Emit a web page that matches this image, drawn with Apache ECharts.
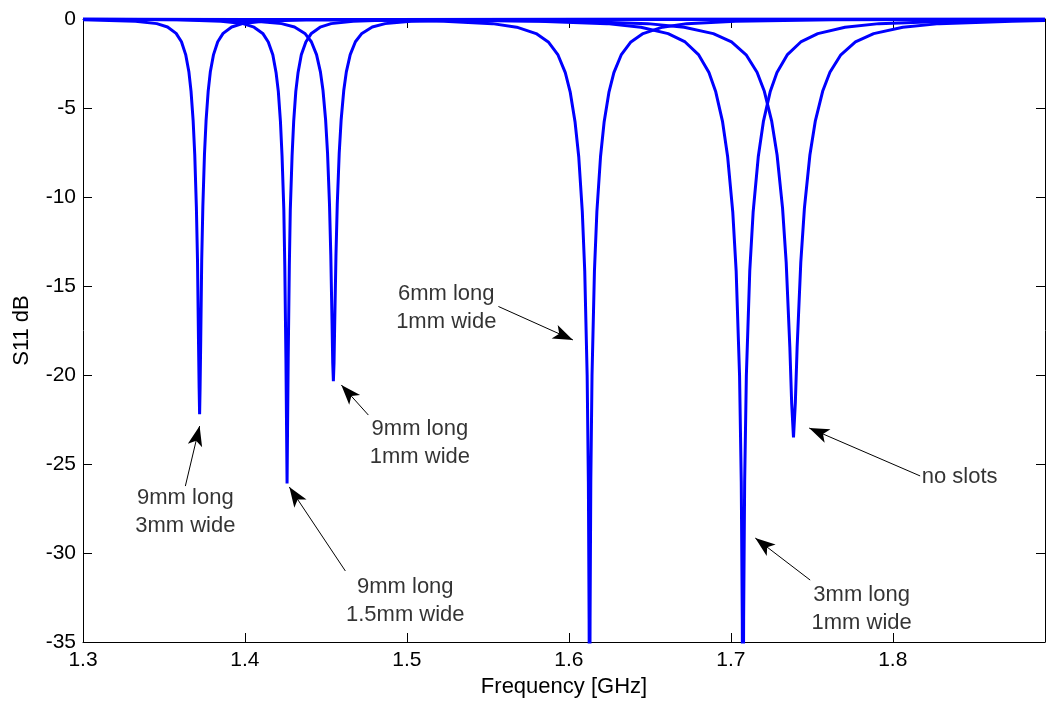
<!DOCTYPE html>
<html>
<head>
<meta charset="utf-8">
<script src="https://cdn.jsdelivr.net/npm/echarts@6/dist/echarts.min.js"></script>
<style>
html,body{margin:0;padding:0;background:#fff;}
#chart{width:1047px;height:704px;}
</style>
</head>
<body>
<div id="chart"></div>
<script>
// ---- data (frequency GHz, S11 dB) ----
const curve9x3 = [[1.300,-0.04],[1.3324,-0.12],[1.3456,-0.26],[1.3522,-0.45],[1.3575,-0.81],[1.3608,-1.28],[1.3634,-2.00],[1.3654,-2.98],[1.3667,-4.05],[1.3680,-5.70],[1.3690,-7.61],[1.3700,-10.55],[1.3707,-13.54],[1.3713,-17.99],[1.3717,-20.70],[1.3720,-22.2],[1.3723,-20.70],[1.3727,-17.99],[1.3733,-13.54],[1.3740,-10.55],[1.3750,-7.61],[1.3760,-5.70],[1.3773,-4.05],[1.3786,-2.98],[1.3806,-2.00],[1.3832,-1.28],[1.3865,-0.81],[1.3918,-0.45],[1.3984,-0.26],[1.4116,-0.12],[1.4380,-0.04],[1.5500,-0.01],[1.8940,-0.01]];
const curve9x15 = [[1.300,-0.02],[1.3580,-0.04],[1.3852,-0.12],[1.3988,-0.26],[1.4056,-0.46],[1.4110,-0.81],[1.4144,-1.29],[1.4172,-2.01],[1.4192,-3.00],[1.4206,-4.07],[1.4219,-5.74],[1.4229,-7.68],[1.4240,-10.71],[1.4246,-13.89],[1.4253,-19.09],[1.4257,-23.06],[1.4260,-26.1],[1.4263,-23.06],[1.4267,-19.09],[1.4274,-13.89],[1.4280,-10.71],[1.4291,-7.68],[1.4301,-5.74],[1.4314,-4.07],[1.4328,-3.00],[1.4348,-2.01],[1.4376,-1.29],[1.4410,-0.81],[1.4464,-0.46],[1.4532,-0.26],[1.4668,-0.12],[1.4940,-0.04],[1.6000,-0.01],[1.8940,-0.01]];
const curve9x1 = [[1.300,-0.02],[1.3746,-0.04],[1.4066,-0.12],[1.4226,-0.26],[1.4306,-0.45],[1.4370,-0.81],[1.4410,-1.28],[1.4442,-2.00],[1.4466,-2.97],[1.4482,-4.02],[1.4498,-5.66],[1.4510,-7.54],[1.4522,-10.41],[1.4530,-13.25],[1.4538,-17.20],[1.4542,-19.32],[1.4546,-20.35],[1.4550,-19.32],[1.4554,-17.20],[1.4562,-13.25],[1.4570,-10.41],[1.4582,-7.54],[1.4594,-5.66],[1.4610,-4.02],[1.4626,-2.97],[1.4650,-2.00],[1.4682,-1.28],[1.4722,-0.81],[1.4786,-0.45],[1.4866,-0.26],[1.5026,-0.12],[1.5346,-0.04],[1.6500,-0.01],[1.8940,-0.01]];
const curve6x1 = [[1.300,-0.01],[1.4628,-0.04],[1.5228,-0.12],[1.5528,-0.26],[1.5678,-0.46],[1.5798,-0.82],[1.5873,-1.29],[1.5933,-2.02],[1.5978,-3.01],[1.6008,-4.09],[1.6038,-5.77],[1.6061,-7.74],[1.6083,-10.83],[1.6098,-14.15],[1.6113,-20.03],[1.61205,-25.98],[1.6125,-33.7],[1.61265,-38.9],[1.6128,-45.0],[1.61295,-38.9],[1.6131,-33.7],[1.61355,-25.98],[1.6143,-20.03],[1.6158,-14.15],[1.6173,-10.83],[1.61955,-7.74],[1.6218,-5.77],[1.6248,-4.09],[1.6278,-3.01],[1.6323,-2.02],[1.6383,-1.29],[1.6458,-0.82],[1.6578,-0.46],[1.6728,-0.26],[1.7028,-0.12],[1.7628,-0.04],[1.8940,-0.02]];
const curve3x1 = [[1.300,-0.02],[1.4975,-0.04],[1.5815,-0.12],[1.6235,-0.26],[1.6445,-0.46],[1.6613,-0.82],[1.6718,-1.29],[1.6802,-2.02],[1.6865,-3.01],[1.6907,-4.09],[1.6949,-5.77],[1.69805,-7.74],[1.7012,-10.83],[1.7033,-14.15],[1.7054,-20.03],[1.70645,-25.98],[1.70708,-33.7],[1.70729,-38.9],[1.7075,-45.0],[1.70771,-38.9],[1.70792,-33.7],[1.70855,-25.98],[1.7096,-20.03],[1.7117,-14.15],[1.7138,-10.83],[1.71695,-7.74],[1.7201,-5.77],[1.7243,-4.09],[1.7285,-3.01],[1.7348,-2.02],[1.7432,-1.29],[1.7537,-0.82],[1.7705,-0.46],[1.7915,-0.26],[1.8335,-0.12],[1.8940,-0.05]];
const curveNoSlots = [[1.300,-0.02],[1.5137,-0.04],[1.6037,-0.12],[1.6487,-0.26],[1.6712,-0.46],[1.6892,-0.82],[1.70045,-1.29],[1.70945,-2.01],[1.7162,-2.99],[1.7207,-4.06],[1.7252,-5.72],[1.72857,-7.64],[1.73195,-10.62],[1.7342,-13.69],[1.73645,-18.44],[1.73757,-21.58],[1.7387,-23.5],[1.73983,-21.58],[1.74095,-18.44],[1.7432,-13.69],[1.74545,-10.62],[1.74883,-7.64],[1.7522,-5.72],[1.7567,-4.06],[1.7612,-2.99],[1.76795,-2.01],[1.77695,-1.29],[1.7882,-0.82],[1.8062,-0.46],[1.8287,-0.26],[1.8737,-0.12],[1.8940,-0.08]];

// annotation texts with their anchor (data coords)
const noteTexts = ['9mm long\n3mm wide','9mm long\n1.5mm wide','9mm long\n1mm wide','6mm long\n1mm wide','3mm long\n1mm wide','no slots'];
const notePos = [[1.3632,-27.72],[1.4990,-32.70],[1.5080,-23.82],[1.5243,-16.21],[1.7808,-33.15],[1.8413,-25.73]];
// arrows: [tail, head] in data coords
const arrowTail = [[1.3632,-26.24],[1.4620,-31.01],[1.4762,-22.25],[1.5565,-16.15],[1.7490,-31.52],[1.8169,-25.67]];
const arrowHead = [[1.3720,-22.87],[1.4274,-26.29],[1.4595,-20.56],[1.6025,-18.03],[1.7151,-29.16],[1.7484,-22.98]];

const xTicks = ['1.3','1.4','1.5','1.6','1.7','1.8'];
const yTicks = [0,-5,-10,-15,-20,-25,-30,-35];

const FONT = 'Liberation Sans, Arial, Helvetica, sans-serif';
const BLUE = '#0000ff';

const chart = echarts.init(document.getElementById('chart'), null, {renderer:'canvas'});

const curves = [curve9x3, curve9x15, curve9x1, curve6x1, curve3x1, curveNoSlots];
const series = curves.map(c => ({
  type:'line', data:c, showSymbol:false, symbol:'none', clip:true,
  lineStyle:{color:BLUE, width:3}, itemStyle:{color:BLUE},
  silent:true, animation:false, z:2
}));

series.push({
  type:'line', data:[], silent:true, animation:false,
  markLine:{
    silent:true, animation:false,
    symbol:['none','arrow'], symbolSize:[11,20],
    label:{show:false},
    lineStyle:{color:'#000', width:1, type:'solid'},
    emphasis:{disabled:true},
    data: arrowTail.map((t,i)=>[{coord:t},{coord:arrowHead[i]}])
  }
});

series.push({
  type:'scatter', symbolSize:0, silent:true, animation:false,
  data: noteTexts.map((t,i)=>({name:t, value:notePos[i]})),
  label:{show:true, position:[0,0], align:'center', verticalAlign:'middle',
    formatter:p=>p.name, fontFamily:FONT, fontSize:22, lineHeight:28, color:'#000'},
  z:5
});

const axisCommon = {
  axisLine:{show:true, onZero:false, lineStyle:{color:'#000', width:1}},
  axisTick:{show:true, inside:true, length:9, lineStyle:{color:'#000'}},
  splitLine:{show:false}
};

chart.setOption({
  backgroundColor:'#fff',
  animation:false,
  grid:{left:83, top:19, right:2, bottom:62, containLabel:false},
  xAxis:[
    Object.assign({type:'value', min:1.3, max:1.894, interval:0.1, position:'bottom',
      name:'Frequency [GHz]', nameLocation:'middle', nameGap:34,
      nameTextStyle:{fontFamily:FONT, fontSize:22, color:'#000'},
      axisLabel:{fontFamily:FONT, fontSize:21, color:'#000', margin:8, showMaxLabel:false,
        formatter:v=>{const s=v.toFixed(1); return xTicks.indexOf(s)>=0 && Math.abs(v-parseFloat(s))<1e-6 ? s : '';}}
    }, axisCommon),
    Object.assign({type:'value', min:1.3, max:1.894, interval:0.1, position:'top',
      axisLabel:{show:false}}, axisCommon)
  ],
  yAxis:[
    Object.assign({type:'value', min:-35, max:0, interval:5, position:'left',
      name:'S11 dB', nameLocation:'middle', nameGap:50,
      nameTextStyle:{fontFamily:FONT, fontSize:22, color:'#000'},
      axisLabel:{fontFamily:FONT, fontSize:21, color:'#000', margin:7,
        formatter:v=> yTicks.indexOf(v)>=0 ? String(v) : ''}
    }, axisCommon),
    Object.assign({type:'value', min:-35, max:0, interval:5, position:'right',
      axisLabel:{show:false}}, axisCommon)
  ],
  series: series
});
</script>
</body>
</html>
